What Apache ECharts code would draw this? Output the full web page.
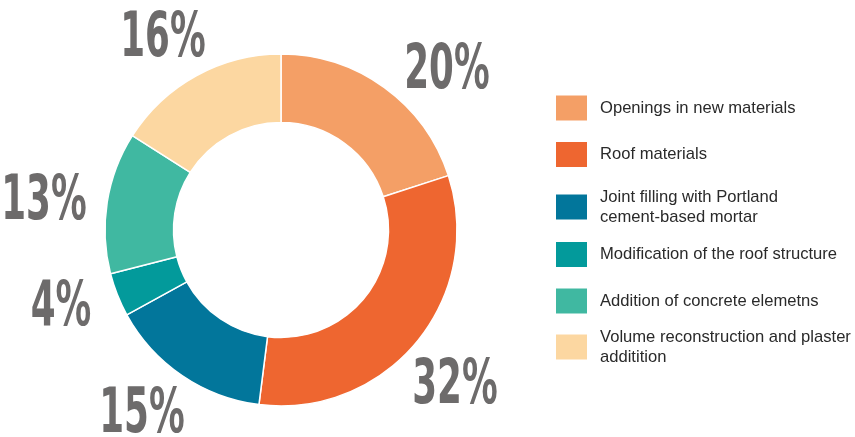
<!DOCTYPE html>
<html>
<head>
<meta charset="utf-8">
<script src="https://cdn.jsdelivr.net/npm/echarts@6/dist/echarts.min.js"></script>
<style>html,body{margin:0;padding:0;background:#fff}#c{width:855px;height:437px}</style>
</head>
<body>
<div id="c"></div>
<script>
const categories = [
  'Openings in new materials',
  'Roof materials',
  'Joint filling with Portland\ncement-based mortar',
  'Modification of the roof structure',
  'Addition of concrete elemetns',
  'Volume reconstruction and plaster\nadditition'
];
const values = [20, 32, 15, 4, 13, 16];
const colors = ['#F49F66', '#EE6630', '#02769B', '#039A9B', '#40B8A1', '#FCD7A1'];

const labelCenters = [[447, 72], [455, 387], [142, 416], [61, 309], [44, 203], [163, 40]];
const legendBoxCenters = [107, 153.5, 207, 253.5, 300, 347];

const chart = echarts.init(document.getElementById('c'), null, {renderer: 'canvas'});

const legends = categories.map((name, i) => {
  const lines = name.split('\n').length;
  const h = Math.max(27, lines * 20);
  return {
    data: [name],
    orient: 'vertical',
    left: 554,
    top: legendBoxCenters[i] - h / 2,
    padding: 0,
    itemWidth: 33,
    itemHeight: 27,
    icon: 'rect',
    selectedMode: false,
    textStyle: {
      fontFamily: 'Liberation Sans, Arial, sans-serif',
      fontSize: 16.6,
      color: '#2a2a2a',
      lineHeight: 20,
      padding: [0, 0, 0, 7]
    }
  };
});

// Big percentage labels, drawn as condensed text (horizontally compressed)
const pctLabels = values.map((v, i) => ({
  type: 'text',
  x: labelCenters[i][0],
  y: labelCenters[i][1],
  scaleX: 0.64,
  silent: true,
  style: {
    text: v + '%',
    x: 0,
    y: 0,
    align: 'center',
    verticalAlign: 'middle',
    font: 'bold 62px "DejaVu Sans Condensed", "DejaVu Sans", sans-serif',
    fill: '#6d6b6b'
  }
}));

chart.setOption({
  animation: false,
  color: colors,
  legend: legends,
  graphic: pctLabels,
  series: [{
    type: 'pie',
    center: [281, 230],
    radius: [107.5, 176],
    startAngle: 90,
    clockwise: true,
    avoidLabelOverlap: false,
    itemStyle: {borderColor: '#fff', borderWidth: 1.5},
    label: {show: false},
    labelLine: {show: false},
    emphasis: {disabled: true},
    data: categories.map((n, i) => ({name: n, value: values[i]}))
  }]
});
</script>
</body>
</html>
